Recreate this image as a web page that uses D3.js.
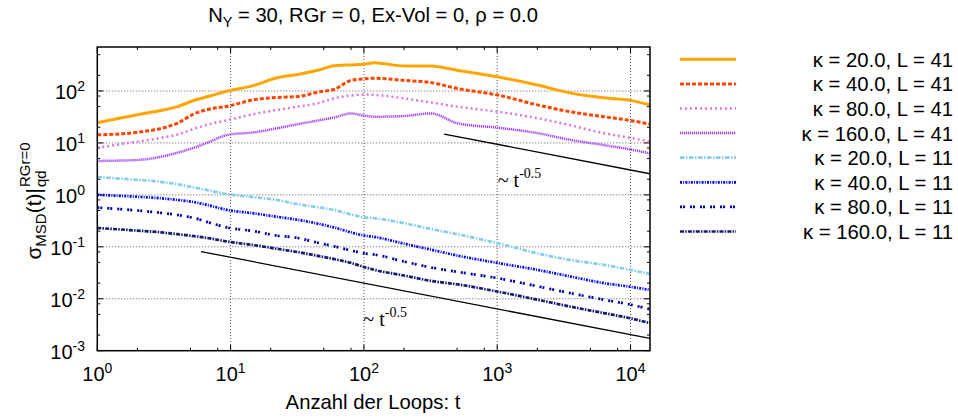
<!DOCTYPE html>
<html><head><meta charset="utf-8">
<script src="https://cdn.jsdelivr.net/npm/d3@7"></script>
<style>
html,body{margin:0;padding:0;background:#fff;}
svg{display:block;font-family:"Liberation Sans",Arial,Helvetica,sans-serif;}
</style></head>
<body><svg id="c" width="958" height="419"></svg>
<script>
// ---- data ----
const tValues = [1, 2, 3, 4, 5.4, 7, 9.5, 15, 22, 32, 45, 60, 80, 100, 120, 200, 320, 500, 1000, 2000, 3500, 6300, 10000, 14000];
const k20L41  = [24.5, 35, 42, 50, 67, 80, 100, 128, 178, 208, 250, 305, 318, 326, 350, 303, 303, 250, 188, 130, 92, 74, 66, 54];
const k40L41  = [14.3, 16, 19, 24, 37, 45, 51, 68, 75, 78, 95, 108, 160, 172, 176, 160, 145, 112, 84, 54, 40, 32, 27, 23];
const k80L41  = [8.1, 10.6, 12.5, 14.5, 19, 23, 27.5, 36, 43, 50, 58, 72, 82, 86, 84, 72, 60, 50, 40, 30, 22, 15.4, 12.5, 10.6];
const k160L41 = [4.5, 4.7, 5.4, 6.5, 8.2, 10.6, 14.3, 16, 19, 23, 27, 31, 37, 33.5, 32, 33, 37, 24, 19.7, 15.5, 11.5, 9.1, 7.5, 6.3];
const k20L11  = [2.19, 1.95, 1.78, 1.6, 1.38, 1.2, 1.03, 0.9, 0.8, 0.66, 0.58, 0.51, 0.42, 0.37, 0.355, 0.285, 0.22, 0.175, 0.118, 0.075, 0.056, 0.045, 0.036, 0.030];
const k40L11  = [1.0, 0.92, 0.86, 0.8, 0.72, 0.62, 0.51, 0.44, 0.38, 0.33, 0.28, 0.235, 0.19, 0.165, 0.155, 0.115, 0.088, 0.068, 0.049, 0.036, 0.027, 0.020, 0.017, 0.0148];
const k80L11  = [0.57, 0.5, 0.45, 0.41, 0.355, 0.29, 0.234, 0.2, 0.165, 0.148, 0.12, 0.102, 0.085, 0.075, 0.071, 0.052, 0.04, 0.033, 0.025, 0.0174, 0.0129, 0.0096, 0.0077, 0.0063];
const k160L11 = [0.23, 0.205, 0.19, 0.175, 0.16, 0.145, 0.126, 0.108, 0.092, 0.079, 0.067, 0.058, 0.049, 0.041, 0.036, 0.028, 0.022, 0.019, 0.0138, 0.0096, 0.0071, 0.0053, 0.0042, 0.0034];
const seriesLabels = ["κ = 20.0, L = 41","κ = 40.0, L = 41","κ = 80.0, L = 41","κ = 160.0, L = 41",
                      "κ = 20.0, L = 11","κ = 40.0, L = 11","κ = 80.0, L = 11","κ = 160.0, L = 11"];
const refUpperT = [400, 14000], refUpperV = [14.8, 2.55];
const refLowerT = [6, 14000],   refLowerV = [0.081, 0.00172];
const annotUpper = {t: 1010, v: 1.43};
const annotLower = {t: 99, v: 0.00293};
const xTickExps = [0, 1, 2, 3, 4];
const yTickExps = [-3, -2, -1, 0, 1, 2];
const minorMult = [2, 5, 8];
const titleText = ["N", "Y", " = 30, RGr = 0, Ex-Vol = 0, ρ = 0.0"];
const xLabel = "Anzahl der Loops: t";

// ---- styles ----
const styles = [
  {color:"#FFA500", w:3,   dash:null},
  {color:"#FF4500", w:3,   dash:"4,2"},
  {color:"#DD77DD", w:2.5, dash:"2,3"},
  {color:"#A040F0", w:2.5, dash:"1.2,0.8"},
  {color:"#87CEEB", w:2.7, dash:"4.5,1.5,1.5,1.5"},
  {color:"#0000FF", w:2.7, dash:"2,1.2,1,1.2"},
  {color:"#0000A0", w:2.7, dash:"2,1,2,5"},
  {color:"#191970", w:2.7, dash:"4,1.2,1.5,1.2"}
];
const allSeries = [k20L41,k40L41,k80L41,k160L41,k20L11,k40L11,k80L11,k160L11];

const svg = d3.select("#c");
const X0 = 97.3, X1 = 650, Y0 = 47, Y1 = 350.7;
const x = d3.scaleLog().domain([1, 14000]).range([X0, X1]);
const y = d3.scaleLog().domain([1e-3, 703]).range([Y1, Y0]);

// grid
const grid = svg.append("g");
xTickExps.slice(1).forEach(e => {
  grid.append("line").attr("x1", x(10**e)).attr("x2", x(10**e)).attr("y1", Y0).attr("y2", Y1)
    .attr("stroke","#555").attr("stroke-width",1).attr("stroke-dasharray","1,2");
});
yTickExps.slice(1).forEach(e => {
  grid.append("line").attr("y1", y(10**e)).attr("y2", y(10**e)).attr("x1", X0).attr("x2", X1)
    .attr("stroke","#555").attr("stroke-width",1).attr("stroke-dasharray","1,2");
});

// axes ticks (inward, mirrored)
const axG = svg.append("g").attr("stroke","#000").attr("stroke-width",1);
const xMaj = xTickExps.map(e => 10**e);
const xMin = [];
xTickExps.forEach(e => minorMult.forEach(m => { const v = m*10**e; if (v <= 14000) xMin.push(v); }));
const yMaj = yTickExps.map(e => 10**e);
const yMin = [];
yTickExps.forEach(e => minorMult.forEach(m => { const v = m*10**e; if (v <= 703) yMin.push(v); }));
xMaj.forEach(v => { axG.append("line").attr("x1",x(v)).attr("x2",x(v)).attr("y1",Y1).attr("y2",Y1-6);
                     axG.append("line").attr("x1",x(v)).attr("x2",x(v)).attr("y1",Y0).attr("y2",Y0+6); });
xMin.forEach(v => { axG.append("line").attr("x1",x(v)).attr("x2",x(v)).attr("y1",Y1).attr("y2",Y1-3);
                     axG.append("line").attr("x1",x(v)).attr("x2",x(v)).attr("y1",Y0).attr("y2",Y0+3); });
yMaj.forEach(v => { axG.append("line").attr("y1",y(v)).attr("y2",y(v)).attr("x1",X0).attr("x2",X0+6);
                     axG.append("line").attr("y1",y(v)).attr("y2",y(v)).attr("x1",X1).attr("x2",X1-6); });
yMin.forEach(v => { axG.append("line").attr("y1",y(v)).attr("y2",y(v)).attr("x1",X0).attr("x2",X0+3);
                     axG.append("line").attr("y1",y(v)).attr("y2",y(v)).attr("x1",X1).attr("x2",X1-3); });

// tick labels
const FS = 20, SFS = 14;
xTickExps.forEach(e => {
  const t = svg.append("text").attr("x", x(10**e)).attr("y", 381).attr("text-anchor","middle")
    .attr("font-size", FS).attr("fill","#000");
  t.append("tspan").text("10");
  t.append("tspan").attr("font-size", SFS).attr("dy", -8).text(String(e));
});
yTickExps.forEach(e => {
  const t = svg.append("text").attr("x", 85).attr("y", y(10**e) + 8).attr("text-anchor","end")
    .attr("font-size", FS).attr("fill","#000");
  t.append("tspan").text("10");
  t.append("tspan").attr("font-size", SFS).attr("dy", -8).text(String(e));
});

// series
const clip = svg.append("clipPath").attr("id","pc").append("rect")
  .attr("x",X0).attr("y",Y0).attr("width",X1-X0).attr("height",Y1-Y0);
const line = d3.line().x(d => x(d[0])).y(d => y(d[1])).curve(d3.curveMonotoneX);
const plotG = svg.append("g").attr("clip-path","url(#pc)");
allSeries.forEach((s, i) => {
  const st = styles[i];
  plotG.append("path").datum(tValues.map((t, j) => [t, s[j]]))
    .attr("d", line).attr("fill","none").attr("stroke", st.color)
    .attr("stroke-width", st.w).attr("stroke-dasharray", st.dash);
});
// reference lines
[[refUpperT, refUpperV],[refLowerT, refLowerV]].forEach(([ts, vs]) => {
  plotG.append("path").datum(ts.map((t,j)=>[t, vs[j]]))
    .attr("d", d3.line().x(d=>x(d[0])).y(d=>y(d[1]))).attr("fill","none")
    .attr("stroke","#000").attr("stroke-width",1.3);
});
[annotUpper, annotLower].forEach(a => {
  const t = svg.append("text").attr("x", x(a.t)).attr("y", y(a.v))
    .attr("font-family","'Liberation Serif','Times New Roman',serif").attr("font-size",20).attr("fill","#000");
  t.append("tspan").text("~ t");
  t.append("tspan").attr("font-size",14).attr("dy",-9).text("-0.5");
});

// border
svg.append("rect").attr("x",X0).attr("y",Y0).attr("width",X1-X0).attr("height",Y1-Y0)
  .attr("fill","none").attr("stroke","#000").attr("stroke-width",1.5);

// title
const tt = svg.append("text").attr("x", 373).attr("y", 22).attr("text-anchor","middle")
  .attr("font-size", 20.2).attr("fill","#000");
tt.append("tspan").text(titleText[0]);
tt.append("tspan").attr("font-size", 14.5).attr("dy", 5).text(titleText[1]);
tt.append("tspan").attr("dy", -5).text(titleText[2]);

// x label
svg.append("text").attr("x", 373).attr("y", 409).attr("text-anchor","middle")
  .attr("font-size", 20.3).attr("fill","#000").text(xLabel);

// y label
const gl = svg.append("g");
const t1 = gl.append("text").attr("font-size", 21).attr("fill","#000");
t1.append("tspan").text("σ");
t1.append("tspan").attr("font-size", 15).attr("dy", 5).text("MSD");
t1.append("tspan").attr("dy", -5).text("(t)|");
const w1 = t1.node().getComputedTextLength();
const sb = gl.append("text").attr("font-size", 15).attr("x", w1+1).attr("y", 5).attr("fill","#000").text("qd");
const sp = gl.append("text").attr("font-size", 15).attr("x", w1+1).attr("y", -11).attr("fill","#000").text("RGr=0");
const total = w1 + 1 + Math.max(sb.node().getComputedTextLength(), sp.node().getComputedTextLength());
gl.attr("transform", `translate(41,${201 + total/2}) rotate(-90)`);

// legend
const L0 = 59.3, LS = 24.6;
seriesLabels.forEach((lab, i) => {
  const st = styles[i];
  const yy = L0 + i*LS;
  svg.append("line").attr("x1",680).attr("x2",736).attr("y1",yy).attr("y2",yy)
    .attr("stroke",st.color).attr("stroke-width",st.w).attr("stroke-dasharray",st.dash);
  svg.append("text").attr("x",953).attr("y",yy+7.5).attr("text-anchor","end")
    .attr("font-size",20.3).attr("fill","#000").text(lab);
});
</script></body></html>
